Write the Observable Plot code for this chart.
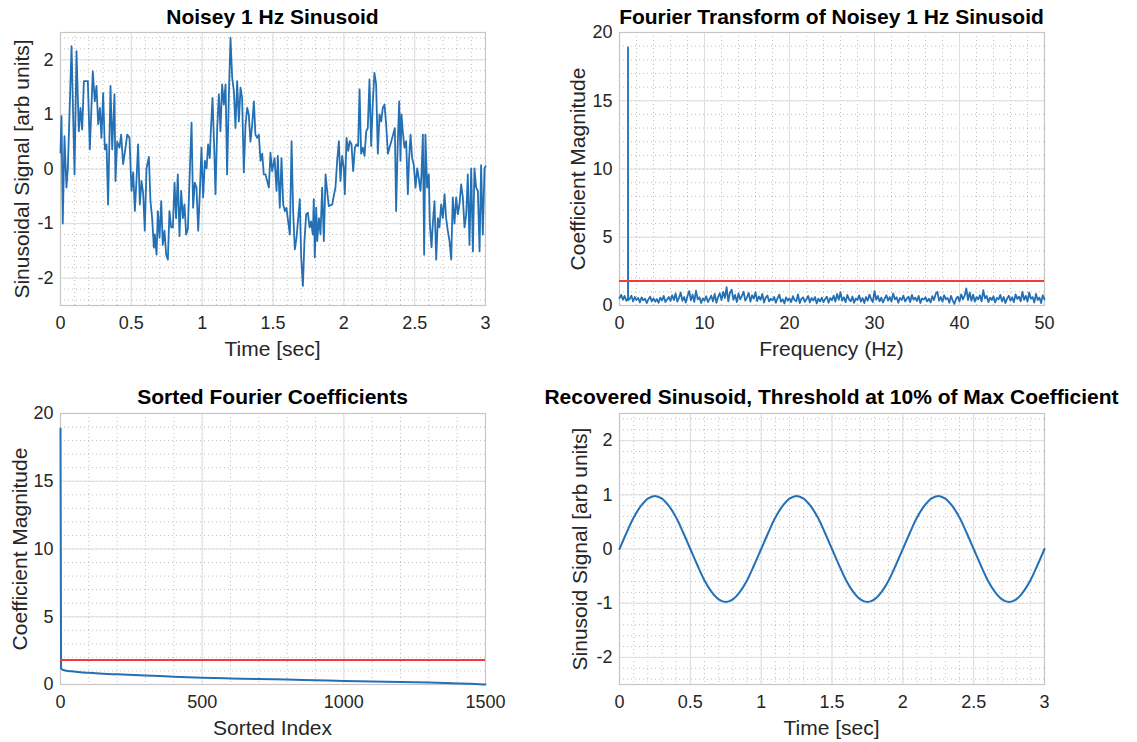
<!DOCTYPE html>
<html>
<head>
<meta charset="utf-8">
<script src="https://cdn.jsdelivr.net/npm/d3@7"></script>
<script src="https://cdn.jsdelivr.net/npm/@observablehq/plot@0.6"></script>
<style>
  html, body { margin: 0; padding: 0; background: #fff; }
  #chart { position: relative; width: 1137px; height: 742px; background: #fff;
           font-family: "Liberation Sans", Arial, Helvetica, sans-serif; overflow: hidden; }
  .panel { position: absolute; }
  .title { position: absolute; width: 700px; text-align: center; font-weight: bold;
           font-size: 21px; line-height: 24px; color: #000; white-space: nowrap; }
  .xlabel { position: absolute; width: 500px; text-align: center; font-size: 21px;
            line-height: 24px; color: #262626; white-space: nowrap; }
  .ylabel { position: absolute; width: 400px; text-align: center; font-size: 21px;
            line-height: 24px; color: #262626; white-space: nowrap; transform: rotate(-90deg); }
</style>
</head>
<body>
<div id="chart"></div>
<script>
// ---------------- DATA ----------------
// Panel 1: noisy 1 Hz sinusoid
const noisyT = [
  0.000,0.007,0.016,0.028,0.042,0.052,0.078,0.099,0.113,0.129,
  0.141,0.153,0.165,0.184,0.193,0.207,0.228,0.242,0.254,0.266,
  0.278,0.289,0.301,0.313,0.325,0.336,0.353,0.365,0.381,0.388,
  0.400,0.416,0.428,0.442,0.454,0.471,0.487,0.501,0.513,0.525,
  0.536,0.548,0.560,0.572,0.584,0.595,0.607,0.624,0.635,0.647,
  0.659,0.666,0.678,0.687,0.699,0.711,0.722,0.734,0.746,0.758,
  0.769,0.781,0.793,0.805,0.816,0.828,0.840,0.852,0.864,0.875,
  0.887,0.899,0.911,0.925,0.936,0.948,0.960,0.972,0.984,0.995,
  1.007,1.019,1.031,1.042,1.054,1.061,1.073,1.085,1.094,1.106,
  1.118,1.129,1.141,1.153,1.165,1.176,1.188,1.200,1.212,1.224,
  1.235,1.247,1.259,1.271,1.282,1.294,1.306,1.318,1.329,1.341,
  1.353,1.365,1.376,1.388,1.400,1.412,1.424,1.435,1.447,1.471,
  1.482,1.494,1.511,1.525,1.534,1.548,1.560,1.572,1.584,1.595,
  1.607,1.619,1.631,1.642,1.654,1.666,1.678,1.689,1.699,1.711,
  1.722,1.734,1.746,1.758,1.769,1.781,1.788,1.795,1.805,1.812,
  1.824,1.835,1.847,1.859,1.871,1.882,1.894,1.918,1.929,1.941,
  1.953,1.965,1.976,1.988,2.000,2.007,2.019,2.031,2.042,2.054,
  2.066,2.078,2.089,2.101,2.111,2.122,2.134,2.146,2.158,2.169,
  2.181,2.193,2.205,2.216,2.228,2.240,2.252,2.264,2.275,2.287,
  2.299,2.311,2.329,2.348,2.360,2.369,2.381,2.391,2.400,2.407,
  2.416,2.428,2.440,2.452,2.461,2.471,2.482,2.494,2.506,2.518,
  2.529,2.541,2.548,2.558,2.567,2.576,2.588,2.600,2.607,2.619,
  2.628,2.640,2.652,2.664,2.675,2.687,2.699,2.711,2.722,2.734,
  2.746,2.758,2.769,2.781,2.793,2.805,2.816,2.828,2.840,2.852,
  2.864,2.875,2.887,2.899,2.911,2.922,2.934,2.946,2.958,2.969,
  2.981,2.993,3.000
];
const noisyV = [
  0.30,0.97,-1.0,0.6,-0.34,0.02,2.25,-0.1,2.16,0.69,
  1.12,0.72,1.61,1.61,1.61,0.36,1.79,1.24,1.52,0.82,
  1.12,0.57,1.39,0.36,0.45,-0.65,1.52,0.36,1.37,-0.22,
  0.5,0.39,0.63,0.09,0.3,0.63,0.57,-0.4,-0.06,-0.77,
  -0.22,0.45,-0.65,-0.22,-0.46,-1.13,0.01,0.22,-0.59,-0.9,
  -1.44,-1.2,-1.57,-0.77,-1.26,-0.59,-1.39,-1.13,-1.57,-1.66,
  -0.77,-1.07,-1.07,-0.25,-0.9,-0.1,-1.23,-0.4,-0.9,-0.65,
  -1.2,-1.1,-0.17,0.85,-0.71,-0.25,-0.34,-1.13,-0.4,0.39,
  -0.52,0.15,0.01,0.45,0.2,0.69,1.3,0.39,-0.46,0.75,
  1.37,0.69,1.55,1.18,1.55,-0.1,1.3,2.4,1.67,1.42,
  0.75,1.61,0.87,1.49,1.3,-0.06,0.81,1.12,1.0,0.5,
  0.81,1.24,0.63,0.57,0.63,0.15,0.28,-0.1,-0.1,-0.34,
  0.30,-0.04,0.2,-0.4,0.24,-0.71,0.2,-0.65,-0.77,-0.71,
  -0.96,-1.2,0.51,-0.77,-1.47,-1.26,-0.9,-0.55,-1.62,-2.14,
  -1.32,-0.83,-0.8,-1.07,-0.96,-1.2,-0.55,-1.62,-0.71,-1.32,
  -0.9,-1.2,-0.34,-1.32,-0.1,-0.4,-0.68,-0.65,-0.49,-0.34,
  0.15,0.51,-0.22,0.24,0.01,-0.46,0.57,0.33,0.51,0.45,
  -0.04,0.39,0.45,0.42,1.46,0.28,0.39,0.24,0.69,0.75,
  1.64,0.42,1.24,1.76,1.55,0.28,1.0,0.87,1.12,1.18,
  0.81,0.28,0.45,0.63,0.75,-0.77,0.51,1.24,0.15,1.0,
  0.69,0.39,0.51,-0.46,0.2,0.63,0.2,0.07,-0.34,0.01,
  -0.17,-0.4,-0.1,0.63,-1.57,0.63,-0.34,-0.1,-1.0,-1.43,
  -1.0,-0.59,-1.66,-0.9,-1.07,-0.65,-0.9,-0.46,-0.9,-1.13,
  -1.32,-1.66,-0.52,-1.0,-0.52,-0.83,-0.65,-0.28,-0.52,-1.07,
  -0.83,-0.1,-1.39,0.01,-1.51,0.01,-0.34,-0.4,-1.51,0.07,
  -1.2,0.01,0.05
];

// Panel 2: Fourier coefficient magnitudes, one value every fftStep Hz from 0 to 50 Hz
const fftStep = 0.2;
const fftMag = [
  0.55,0.78,0.42,0.70,0.35,0.50,0.48,0.72,0.30,0.62,
  0.40,0.55,0.22,0.60,0.38,0.50,0.18,0.45,0.65,0.30,
  0.52,0.28,0.47,0.20,0.58,0.36,0.70,0.25,0.44,0.62,
  0.33,0.75,0.40,0.88,0.28,0.56,0.95,0.34,0.62,0.22,
  0.70,1.05,0.38,0.80,0.26,1.08,0.45,0.60,0.18,0.52,
  0.35,0.68,0.25,0.48,0.72,0.30,0.85,0.20,0.62,0.90,
  0.40,1.00,0.55,1.35,0.30,0.95,1.15,0.42,0.78,0.25,
  0.88,0.45,0.70,1.02,0.35,0.60,0.92,0.28,0.75,0.50,
  0.98,0.33,0.66,0.42,0.85,0.22,0.58,0.73,0.30,0.50,
  0.38,0.62,0.20,0.55,0.80,0.28,0.46,0.15,0.60,0.35,
  0.52,0.25,0.68,0.40,0.30,0.82,0.18,0.48,0.60,0.27,
  0.45,0.70,0.22,0.55,0.36,0.62,0.15,0.50,0.30,0.58,
  0.25,0.48,0.65,0.20,0.55,0.38,0.72,0.28,0.85,0.42,
  0.98,0.35,0.60,0.25,0.78,0.45,0.30,0.66,0.20,0.52,
  0.40,0.74,0.28,0.55,0.18,0.62,0.35,0.80,0.48,0.26,
  1.05,0.42,0.70,0.30,0.58,0.22,0.50,0.75,0.35,0.62,
  0.28,0.88,0.45,0.60,0.20,0.55,0.40,0.72,0.30,0.50,
  0.65,0.25,0.78,0.42,0.58,0.33,0.70,0.18,0.52,0.44,
  0.60,0.30,0.50,0.22,0.68,0.40,0.85,1.00,0.35,0.62,
  0.28,0.75,0.45,0.55,0.20,0.70,0.38,0.12,0.50,0.65,
  0.30,0.82,0.45,0.72,1.25,0.40,0.95,0.35,0.80,0.28,
  0.62,0.45,0.75,0.30,1.12,0.52,0.70,0.25,0.58,0.40,
  0.68,0.22,0.55,0.45,0.78,0.30,0.62,0.18,0.50,0.72,
  0.35,0.60,0.25,0.82,0.48,0.65,0.30,1.00,0.42,0.70,
  0.28,0.95,0.50,0.62,0.22,0.85,0.40,0.58,0.18,0.75,0.45
];
// The 1 Hz peak (finely sampled bins around it)
const peakF = [0.97, 0.985, 1.0, 1.015, 1.03];
const peakM = [0.45, 0.60, 18.9, 0.55, 0.40];
const threshold = 1.8;   // 10% of the max coefficient

// Panel 3: sorted coefficient magnitudes
const sortedIdx = [0, 2, 5, 10, 20, 40, 70, 100, 150, 200, 300, 400, 500, 600, 700, 800, 900, 1000, 1100, 1200, 1300, 1400, 1450, 1480, 1500];
const sortedMag = [18.9, 1.2, 1.12, 1.07, 1.02, 0.97, 0.9, 0.86, 0.8, 0.75, 0.67, 0.58, 0.5, 0.45, 0.4, 0.36, 0.31, 0.26, 0.22, 0.18, 0.14, 0.08, 0.05, 0.02, 0.0];

// Panel 4: recovered sinusoid, one value every recStep seconds
const recStep = 0.05;
const recV = [
  0.00,0.30,0.58,0.79,0.93,0.98,0.93,0.79,0.58,0.30,0.00,-0.30,-0.58,-0.79,-0.93,-0.98,-0.93,-0.79,-0.58,-0.30,
  0.00,0.30,0.58,0.79,0.93,0.98,0.93,0.79,0.58,0.30,0.00,-0.30,-0.58,-0.79,-0.93,-0.98,-0.93,-0.79,-0.58,-0.30,
  0.00,0.30,0.58,0.79,0.93,0.98,0.93,0.79,0.58,0.30,0.00,-0.30,-0.58,-0.79,-0.93,-0.98,-0.93,-0.79,-0.58,-0.30,
  0.00
];

// Tick labels
const timeTicks = [0, 0.5, 1, 1.5, 2, 2.5, 3];
const signalTicks = [-2, -1, 0, 1, 2];
const freqTicks = [0, 10, 20, 30, 40, 50];
const magTicks = [0, 5, 10, 15, 20];
const indexTicks = [0, 500, 1000, 1500];

// ---------------- DRAWING ----------------
const BLUE = "#2470b5";
const RED = "#f43a3a";
const FONT = '"Liberation Sans", Arial, Helvetica, sans-serif';
const chart = document.getElementById("chart");

function panel({left, top, width, height, frame, xDomain, yDomain, xTicks, yTicks, xMinor, yMinor, marks,
                title, titleY, xLabel, xLabelY, yLabel, yLabelX}) {
  const [fx0, fx1, fy0, fy1] = frame;
  const svg = Plot.plot({
    width, height,
    marginLeft: fx0 - left,
    marginRight: left + width - fx1,
    marginTop: fy0 - top,
    marginBottom: top + height - fy1,
    x: {domain: xDomain},
    y: {domain: yDomain},
    style: {fontFamily: FONT, fontSize: "18px", color: "#262626", background: "transparent", overflow: "visible"},
    marks: [
      Plot.gridX(xMinor, {stroke: "#8a8a8a", strokeOpacity: 0.55, strokeDasharray: "1,3", strokeWidth: 1}),
      Plot.gridY(yMinor, {stroke: "#8a8a8a", strokeOpacity: 0.55, strokeDasharray: "1,3", strokeWidth: 1}),
      Plot.gridX(xTicks, {stroke: "#dedede", strokeOpacity: 1, strokeWidth: 1}),
      Plot.gridY(yTicks, {stroke: "#dedede", strokeOpacity: 1, strokeWidth: 1}),
      Plot.frame({stroke: "#c6c6c6", strokeWidth: 1.2}),
      Plot.axisX(xTicks, {tickSize: 0, tickPadding: 11, label: null, tickFormat: d => String(d), fontSize: 18, fill: "#262626"}),
      Plot.axisY(yTicks, {tickSize: 0, tickPadding: 7, label: null, tickFormat: d => String(d), fontSize: 18, fill: "#262626"}),
      ...marks
    ]
  });
  svg.classList.add("panel");
  svg.style.left = left + "px";
  svg.style.top = top + "px";
  chart.appendChild(svg);

  const cx = (fx0 + fx1) / 2, cy = (fy0 + fy1) / 2;
  const t = document.createElement("div");
  t.className = "title"; t.textContent = title;
  t.style.left = (cx - 350) + "px"; t.style.top = (titleY - 12) + "px";
  chart.appendChild(t);

  const xl = document.createElement("div");
  xl.className = "xlabel"; xl.textContent = xLabel;
  xl.style.left = (cx - 250) + "px"; xl.style.top = (xLabelY - 12) + "px";
  chart.appendChild(xl);

  const yl = document.createElement("div");
  yl.className = "ylabel"; yl.textContent = yLabel;
  yl.style.left = (yLabelX - 200) + "px"; yl.style.top = (cy - 12) + "px";
  chart.appendChild(yl);
}

const noisyData = noisyT.map((t, i) => ({t, v: noisyV[i]}));
const fftData = fftMag.map((m, i) => ({f: i * fftStep, m}))
  .concat(peakF.map((f, i) => ({f, m: peakM[i]})))
  .sort((a, b) => a.f - b.f);
const sortedData = sortedIdx.map((k, i) => ({k, m: sortedMag[i]}));
const recData = recV.map((v, i) => ({t: i * recStep, v}));

const minorTime = d3.range(0, 3.0001, 0.1).map(d => +d.toFixed(2));
const minorSignal = d3.range(-2.4, 2.4001, 0.2).map(d => +d.toFixed(2));
const minorFreq = d3.range(0, 50.001, 2);
const minorMag = d3.range(0, 20.001, 1);
const minorIndex = d3.range(0, 1500.1, 100);

// Top-left
panel({
  left: 0, top: 0, width: 560, height: 370, frame: [60, 485, 32, 305],
  xDomain: [0, 3], yDomain: [-2.5, 2.5], xTicks: timeTicks, yTicks: signalTicks,
  xMinor: minorTime, yMinor: minorSignal,
  marks: [Plot.line(noisyData, {x: "t", y: "v", stroke: BLUE, strokeWidth: 1.8})],
  title: "Noisey 1 Hz Sinusoid", titleY: 17,
  xLabel: "Time [sec]", xLabelY: 349,
  yLabel: "Sinusoidal Signal [arb units]", yLabelX: 22
});

// Top-right
panel({
  left: 560, top: 0, width: 577, height: 370, frame: [619, 1044, 32, 305],
  xDomain: [0, 50], yDomain: [0, 20], xTicks: freqTicks, yTicks: magTicks,
  xMinor: minorFreq, yMinor: minorMag,
  marks: [
    Plot.line(fftData, {x: "f", y: "m", stroke: BLUE, strokeWidth: 1.8}),
    Plot.ruleY([threshold], {stroke: RED, strokeWidth: 2})
  ],
  title: "Fourier Transform of Noisey 1 Hz Sinusoid", titleY: 17,
  xLabel: "Frequency (Hz)", xLabelY: 349,
  yLabel: "Coefficient Magnitude", yLabelX: 578
});

// Bottom-left
panel({
  left: 0, top: 380, width: 560, height: 362, frame: [60, 485, 413, 684],
  xDomain: [0, 1500], yDomain: [0, 20], xTicks: indexTicks, yTicks: magTicks,
  xMinor: minorIndex, yMinor: minorMag,
  marks: [
    Plot.line(sortedData, {x: "k", y: "m", stroke: BLUE, strokeWidth: 2, curve: "monotone-x"}),
    Plot.ruleY([threshold], {stroke: RED, strokeWidth: 2})
  ],
  title: "Sorted Fourier Coefficients", titleY: 397,
  xLabel: "Sorted Index", xLabelY: 728,
  yLabel: "Coefficient Magnitude", yLabelX: 20
});

// Bottom-right
panel({
  left: 560, top: 380, width: 577, height: 362, frame: [619, 1044, 413, 684],
  xDomain: [0, 3], yDomain: [-2.5, 2.5], xTicks: timeTicks, yTicks: signalTicks,
  xMinor: minorTime, yMinor: minorSignal,
  marks: [Plot.line(recData, {x: "t", y: "v", stroke: BLUE, strokeWidth: 2, curve: "catmull-rom"})],
  title: "Recovered Sinusoid, Threshold at 10% of Max Coefficient", titleY: 397,
  xLabel: "Time [sec]", xLabelY: 728,
  yLabel: "Sinusoid Signal [arb units]", yLabelX: 580
});
</script>
</body>
</html>
